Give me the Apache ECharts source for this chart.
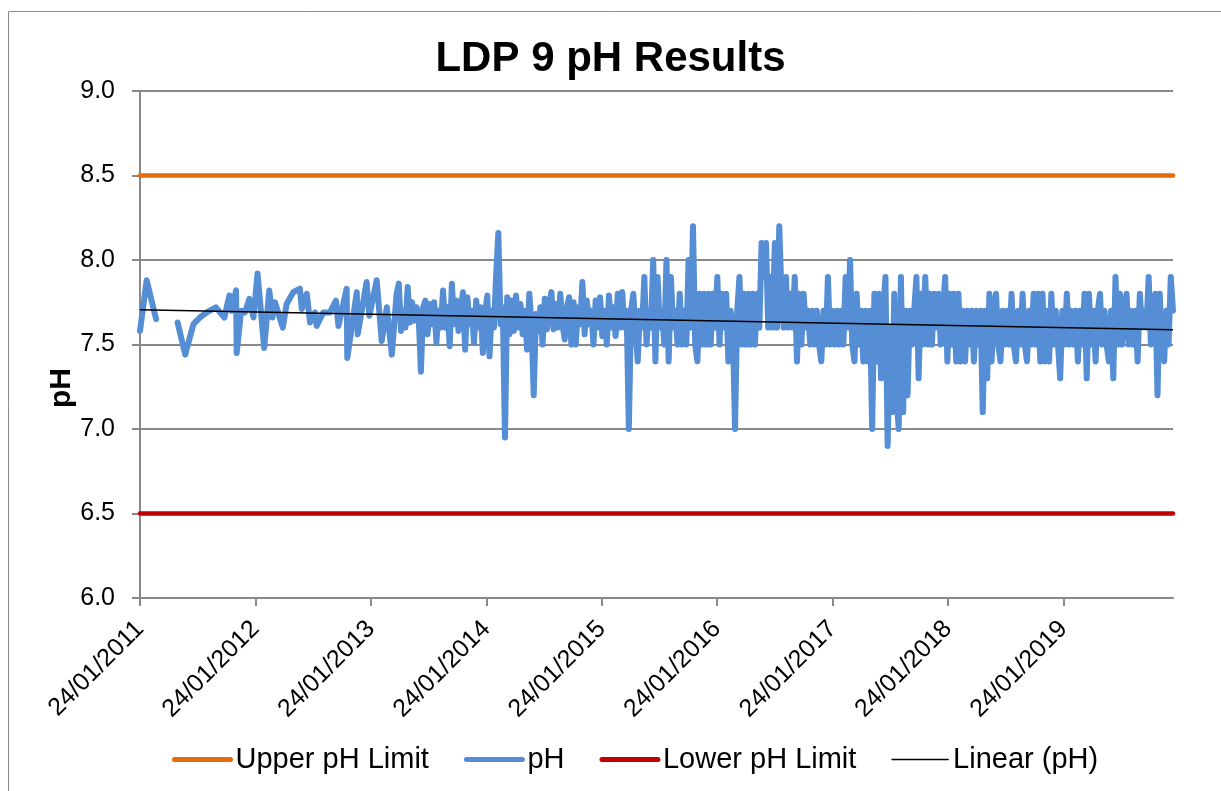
<!DOCTYPE html>
<html>
<head>
<meta charset="utf-8">
<title>LDP 9 pH Results</title>
<script src="https://cdn.jsdelivr.net/npm/echarts@6/dist/echarts.min.js"></script>
<style>
  html, body { margin: 0; padding: 0; background: #fff; }
  #chartPh { width: 1221px; height: 791px; }
</style>
</head>
<body>
<div id="chartPh"></div>
<script>
// x axis tick labels (Excel date axis, major unit 1 year)
var tickLabels = ['24/01/2011', '24/01/2012', '24/01/2013', '24/01/2014', '24/01/2015',
  '24/01/2016', '24/01/2017', '24/01/2018', '24/01/2019'];

// early, irregular sampling (null = missing results)
var earlyDates = ['2011-01-24', '2011-02-14', '2011-03-16', '2011-04-20', '2011-05-23', '2011-06-16',
  '2011-07-12', '2011-08-02', '2011-08-23', '2011-09-21', '2011-10-18', '2011-11-03', '2011-11-10',
  '2011-11-24', '2011-11-26', '2011-12-10', '2011-12-22', '2012-01-05', '2012-01-18', '2012-01-31',
  '2012-02-21', '2012-03-08', '2012-03-18', '2012-03-26', '2012-04-20', '2012-05-02', '2012-05-23',
  '2012-06-13', '2012-06-19', '2012-07-05', '2012-07-15', '2012-07-31', '2012-08-05', '2012-08-26',
  '2012-09-16', '2012-10-05', '2012-10-13', '2012-11-08', '2012-11-10', '2012-12-10', '2012-12-13',
  '2013-01-10', '2013-01-19', '2013-02-11', '2013-02-27', '2013-03-15', '2013-03-31', '2013-04-15'];
var earlyPh = [7.58, 7.88, 7.65, null, 7.63, 7.44,
  7.62, 7.66, 7.69, 7.72, 7.66, 7.79, 7.70,
  7.82, 7.45, 7.70, 7.69, 7.77, 7.66, 7.92,
  7.48, 7.82, 7.66, 7.75, 7.60, 7.74, 7.81,
  7.83, 7.71, 7.80, 7.63, 7.69, 7.61, 7.69,
  7.69, 7.76, 7.61, 7.83, 7.42, 7.81, 7.56,
  7.87, 7.67, 7.88, 7.52, 7.72, 7.44, 7.80];

// weekly results from 22/04/2013
var weeklyStart = '2013-04-22';
var weeklyPh = [
  7.86, 7.58, 7.70, 7.60, 7.84, 7.63, 7.75, 7.64, 7.72, 7.66,
  7.34, 7.72, 7.76, 7.56, 7.74, 7.62, 7.75, 7.51, 7.70, 7.60,
  7.82, 7.60, 7.72, 7.49, 7.86, 7.62, 7.76, 7.58, 7.70, 7.81,
  7.47, 7.78, 7.62, 7.70, 7.51, 7.76, 7.60, 7.72, 7.45, 7.68,
  7.79, 7.43, 7.70, 7.60, 7.91, 8.16, 7.62, 7.72, 6.95, 7.78,
  7.56, 7.76, 7.58, 7.79, 7.60, 7.74, 7.56, 7.70, 7.47, 7.80,
  7.62, 7.20, 7.68, 7.58, 7.72, 7.50, 7.77, 7.59, 7.74, 7.81,
  7.59, 7.74, 7.60, 7.80, 7.62, 7.53, 7.72, 7.78, 7.50, 7.75,
  7.50, 7.72, 7.62, 7.87, 7.56, 7.76, 7.62, 7.70, 7.50, 7.76,
  7.60, 7.78, 7.55, 7.70, 7.50, 7.79, 7.60, 7.72, 7.55, 7.80,
  7.60, 7.81, 7.60, 7.70, 7.00, 7.70, 7.80, 7.60, 7.40, 7.70,
  7.60, 7.90, 7.50, 7.70, 7.60, 8.00, 7.40, 7.90, 7.60, 7.70,
  7.50, 8.00, 7.40, 7.90, 7.60, 7.70, 7.50, 7.80, 7.50, 7.70,
  7.50, 8.00, 7.60, 8.20, 7.50, 7.40, 7.80, 7.50, 7.80, 7.50,
  7.80, 7.50, 7.80, 7.60, 7.90, 7.50, 7.80, 7.60, 7.80, 7.40,
  7.70, 7.60, 7.00, 7.70, 7.90, 7.50, 7.80, 7.50, 7.80, 7.50,
  7.80, 7.50, 7.80, 7.60, 8.10, 7.90, 8.10, 7.60, 7.90, 7.60,
  8.10, 7.60, 8.20, 7.80, 7.60, 7.90, 7.60, 7.80, 7.60, 7.90,
  7.40, 7.80, 7.50, 7.80, 7.60, 7.70, 7.50, 7.70, 7.50, 7.70,
  7.50, 7.40, 7.70, 7.50, 7.90, 7.50, 7.70, 7.50, 7.70, 7.50,
  7.70, 7.50, 7.90, 7.60, 8.00, 7.50, 7.40, 7.80, 7.50, 7.70,
  7.40, 7.70, 7.40, 7.70, 7.00, 7.80, 7.40, 7.80, 7.30, 7.70,
  7.90, 6.90, 7.60, 7.10, 7.80, 7.20, 7.00, 7.90, 7.10, 7.70,
  7.20, 7.70, 7.50, 7.70, 7.90, 7.30, 7.80, 7.50, 7.90, 7.50,
  7.80, 7.50, 7.80, 7.60, 7.80, 7.50, 7.70, 7.90, 7.40, 7.80,
  7.50, 7.80, 7.40, 7.80, 7.40, 7.70, 7.40, 7.70, 7.50, 7.70,
  7.40, 7.70, 7.50, 7.70, 7.10, 7.70, 7.30, 7.80, 7.40, 7.70,
  7.80, 7.50, 7.40, 7.70, 7.50, 7.70, 7.50, 7.80, 7.50, 7.40,
  7.70, 7.50, 7.80, 7.50, 7.40, 7.70, 7.50, 7.80, 7.50, 7.80,
  7.40, 7.80, 7.40, 7.70, 7.40, 7.80, 7.50, 7.70, 7.50, 7.30,
  7.70, 7.50, 7.80, 7.50, 7.70, 7.50, 7.70, 7.40, 7.70, 7.50,
  7.80, 7.30, 7.80, 7.50, 7.70, 7.40, 7.70, 7.80, 7.50, 7.70,
  7.50, 7.40, 7.70, 7.30, 7.90, 7.50, 7.80, 7.50, 7.70, 7.80,
  7.50, 7.70, 7.50, 7.70, 7.40, 7.80, 7.60, 7.70, 7.60, 7.90,
  7.50, 7.70, 7.80, 7.20, 7.80, 7.50, 7.40, 7.70, 7.50, 7.90, 7.70
];

var upperLimit = 8.5;
var lowerLimit = 6.5;

function parseIso(s) {
  var p = s.split('-');
  return Date.UTC(+p[0], +p[1] - 1, +p[2]);
}
function parseDmy(s) {
  var p = s.split('/');
  return Date.UTC(+p[2], +p[1] - 1, +p[0]);
}

function buildPhData() {
  var result = [];
  for (var i = 0; i < earlyDates.length; i++) {
    result.push([parseIso(earlyDates[i]), earlyPh[i]]);
  }
  var p = weeklyStart.split('-');
  for (var j = 0; j < weeklyPh.length; j++) {
    var t = Date.UTC(+p[0], +p[1] - 1, +p[2] + 7 * j);
    result.push([t, weeklyPh[j]]);
  }
  return result;
}

// least squares trend, like Excel's "Linear" trendline
function linearTrend(data, xMin, xMax) {
  var n = 0, sx = 0, sy = 0, sxx = 0, sxy = 0;
  for (var i = 0; i < data.length; i++) {
    if (data[i][1] === null) continue;
    var x = (data[i][0] - xMin) / 86400000, y = data[i][1];
    n++; sx += x; sy += y; sxx += x * x; sxy += x * y;
  }
  var slope = (n * sxy - sx * sy) / (n * sxx - sx * sx);
  var icpt = (sy - slope * sx) / n;
  var span = (xMax - xMin) / 86400000;
  return [[xMin, icpt], [xMax, icpt + slope * span]];
}

var phData = buildPhData();
var xMin = phData[0][0];
var xMax = phData[phData.length - 1][0];
var tickValues = tickLabels.map(parseDmy);
var labelByTime = {};
tickValues.forEach(function (t, i) { labelByTime[t] = tickLabels[i]; });

var fontName = '"Liberation Sans", Arial, sans-serif';
var gridGray = '#898989';

function legendItem(name, width) {
  return { name: name, itemStyle: { opacity: 0 }, lineStyle: { width: width, cap: 'round' } };
}

function initChart() {
  var chart = echarts.init(document.getElementById('chartPh'), null, { renderer: 'canvas' });
  chart.setOption({
    animation: false,
    textStyle: { fontFamily: fontName, color: '#000' },
    title: {
      text: 'LDP 9 pH Results',
      left: 'center',
      top: 38,
      padding: 0,
      textStyle: { fontFamily: fontName, fontSize: 42, fontWeight: 'bold', color: '#000' }
    },
    graphic: [
      {
        type: 'rect',
        shape: { x: 8.5, y: 11.5, width: 1400, height: 900 },
        style: { fill: 'none', stroke: '#8c8c8c', lineWidth: 1 },
        silent: true
      },
      {
        // y axis title (Excel puts it a bit below the plot middle)
        type: 'text',
        x: 62,
        y: 388,
        rotation: Math.PI / 2,
        style: {
          text: 'pH',
          align: 'center',
          verticalAlign: 'middle',
          font: 'bold 30px ' + fontName,
          fill: '#000'
        }
      }
    ],
    legend: {
      left: 167,
      top: 740,
      itemWidth: 56,
      itemHeight: 14,
      itemGap: 35,
      textStyle: { fontFamily: fontName, fontSize: 29, color: '#000' },
      data: [
        legendItem('Upper pH Limit', 5),
        legendItem('pH', 5),
        legendItem('Lower pH Limit', 5),
        legendItem('Linear (pH)', 1.5)
      ]
    },
    grid: { left: 140, right: 48, top: 91, bottom: 193, containLabel: false },
    xAxis: {
      type: 'value',
      min: xMin,
      max: xMax,
      scale: true,
      splitLine: { show: false },
      axisLine: { lineStyle: { color: gridGray, width: 2 } },
      axisTick: { show: true, length: 8, customValues: tickValues, lineStyle: { color: gridGray, width: 2 } },
      axisLabel: {
        customValues: tickValues,
        rotate: 45,
        margin: 27,
        fontSize: 25,
        color: '#000',
        fontFamily: fontName,
        formatter: function (v) { return labelByTime[v] || ''; }
      }
    },
    yAxis: {
      type: 'value',
      min: 6,
      max: 9,
      interval: 0.5,
      axisLine: { show: true, lineStyle: { color: gridGray, width: 2 } },
      axisTick: { show: true, length: 8, lineStyle: { color: gridGray, width: 2 } },
      splitLine: { show: true, lineStyle: { color: gridGray, width: 2 } },
      axisLabel: {
        margin: 25,
        fontSize: 25,
        color: '#000',
        fontFamily: fontName,
        formatter: function (v) { return v.toFixed(1); }
      }
    },
    series: [
      {
        name: 'Upper pH Limit',
        type: 'line',
        symbol: 'none',
        data: [[xMin, upperLimit], [xMax, upperLimit]],
        lineStyle: { color: '#E46C0A', width: 4.5, cap: 'round' },
        itemStyle: { color: '#E46C0A' }
      },
      {
        name: 'pH',
        type: 'line',
        symbol: 'none',
        connectNulls: false,
        data: phData,
        lineStyle: { color: '#558ED5', width: 6, cap: 'round', join: 'round' },
        itemStyle: { color: '#558ED5' }
      },
      {
        name: 'Lower pH Limit',
        type: 'line',
        symbol: 'none',
        data: [[xMin, lowerLimit], [xMax, lowerLimit]],
        lineStyle: { color: '#C00000', width: 4.5, cap: 'round' },
        itemStyle: { color: '#C00000' }
      },
      {
        name: 'Linear (pH)',
        type: 'line',
        symbol: 'none',
        data: linearTrend(phData, xMin, xMax),
        lineStyle: { color: '#000', width: 1.5 },
        itemStyle: { color: '#000' }
      }
    ]
  });
  return chart;
}

initChart();
</script>
</body>
</html>
